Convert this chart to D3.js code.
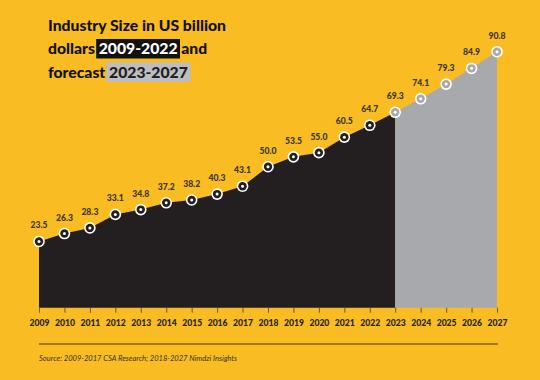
<!DOCTYPE html>
<html><head><meta charset="utf-8">
<script src="https://cdn.jsdelivr.net/npm/d3@7"></script>
<style>
html,body{margin:0;padding:0;background:#f9bc22;}
svg{display:block;}
</style></head>
<body>
<svg id="chart" width="540" height="380"></svg>
<script>
const years = [2009,2010,2011,2012,2013,2014,2015,2016,2017,2018,2019,2020,2021,2022,2023,2024,2025,2026,2027];
const values = [23.5,26.3,28.3,33.1,34.8,37.2,38.2,40.3,43.1,50.0,53.5,55.0,60.5,64.7,69.3,74.1,79.3,84.9,90.8];
const forecastStart = 2023;
const titleLines = [
  [{t:"Industry Size in US billion"}],
  [{t:"dollars "},{t:"2009-2022",hl:"#111111",fg:"#ffffff"},{t:" and"}],
  [{t:"forecast "},{t:"2023-2027",hl:"#bcbec0",fg:"#231f20"}]
];
const sourceText = "Source: 2009-2017 CSA Research; 2018-2027 Nimdzi Insights";

const svg = d3.select("#chart");
const W=540,H=380;
svg.append("rect").attr("width",W).attr("height",H).attr("fill","#f9bc22");

const x = d3.scaleLinear().domain([2009,2027]).range([39,497]);
const y = d3.scaleLinear().domain([0,90.8]).range([307.7,51.7]);

const data = years.map((yr,i)=>({yr,v:values[i]}));
const hist = data.filter(d=>d.yr<=forecastStart);
const fc = data.filter(d=>d.yr>=forecastStart);

const area = d3.area().x(d=>x(d.yr)).y0(y(0)).y1(d=>y(d.v));
svg.append("path").datum(hist).attr("d",area).attr("fill","#231f20");
svg.append("path").datum(fc).attr("d",area).attr("fill","#a7a9ac");

// axis
const axis = d3.axisBottom(x).tickValues(years).tickFormat(d3.format("d")).tickSize(5).tickPadding(6);
const ax = svg.append("g").attr("transform",`translate(0,${y(0)})`).call(axis);
ax.select(".domain").remove();
ax.selectAll(".tick line").attr("stroke","#6b5a2a").attr("stroke-width",1);
ax.selectAll(".tick text").attr("fill","#231f20").attr("font-family","Lato").attr("font-weight",900).attr("font-size",8.6).attr("dy","0.9em");

// markers
const pts = svg.append("g").selectAll("g").data(data).join("g")
  .attr("transform",d=>`translate(${x(d.yr)},${y(d.v)})`);
pts.append("circle").attr("r",5.8).attr("fill","#ffffff");
pts.append("circle").attr("r",4.2).attr("fill",d=>d.yr>=forecastStart?"#a7a9ac":"#231f20");
pts.append("circle").attr("r",1.5).attr("fill","#ffffff");

// value labels
svg.append("g").selectAll("text").data(data).join("text")
  .attr("x",d=>x(d.yr)).attr("y",d=>y(d.v)-16).attr("dy","0.35em")
  .attr("text-anchor","middle").attr("font-family","Lato").attr("font-weight",900)
  .attr("font-size",8.6).attr("fill","#3a3630").text(d=>d.v.toFixed(1));

// title
const tg = svg.append("g");
const lineY = [25,48.5,72];
const fs = 16.5;
titleLines.forEach((segs,li)=>{
  const t = tg.append("text").attr("x",48).attr("y",lineY[li]).attr("dy","0.35em")
    .attr("font-family","Lato").attr("font-weight",900).attr("font-size",fs).attr("fill","#111");
  segs.forEach(s=>{
    t.append("tspan").text(s.t).attr("fill",s.fg||"#111").attr("data-hl",s.hl||null).style("white-space","pre");
  });
});
const first = tg.select("text").node();
const k = 178/first.getComputedTextLength();
tg.selectAll("text").attr("font-size",fs*k);
tg.selectAll("text").each(function(){
  const txt=this;
  d3.select(txt).selectAll("tspan").each(function(){
    const hl=this.getAttribute("data-hl");
    if(!hl) return;
    const n=this.getNumberOfChars();
    const s=this.getStartPositionOfChar(0), e=this.getEndPositionOfChar(n-1);
    const yy=+txt.getAttribute("y");
    tg.insert("rect",":first-child").attr("x",s.x-2.5).attr("width",e.x-s.x+5)
      .attr("y",yy-9.5).attr("height",19.5).attr("fill",hl);
  });
});

// source
svg.append("line").attr("x1",39).attr("x2",498).attr("y1",344).attr("y2",344)
  .attr("stroke","#7d6420").attr("stroke-width",1.3);
const src = svg.append("text").attr("x",39).attr("y",358).attr("dy","0.35em")
  .attr("font-family","Lato").attr("font-style","italic").attr("font-size",8.3)
  .attr("fill","#3a3630").text(sourceText);
const ks = 198/src.node().getComputedTextLength();
src.attr("font-size",8.3*ks);
</script>
</body></html>
